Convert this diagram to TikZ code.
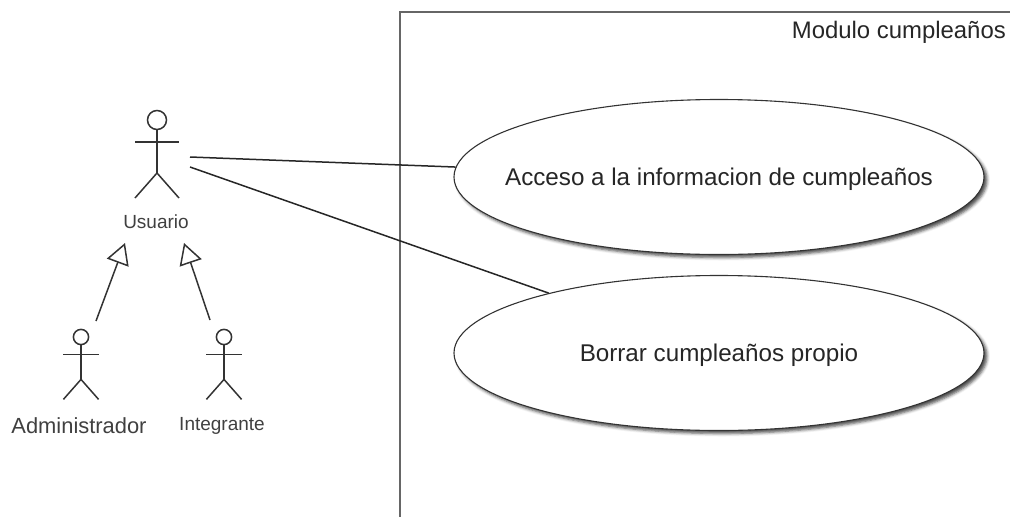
\documentclass[tikz,border=0pt]{standalone}
\usepackage{fontspec}
\setmainfont{Liberation Sans}
\usetikzlibrary{arrows.meta}
\usetikzlibrary{shapes.geometric}
\usetikzlibrary{shadows.blur}
\definecolor{linegray}{HTML}{333333}
\tikzset{
  actor/.pic={
    \draw[actorline] (0,0) circle (9.5);
    \draw[actorline] (0,9.5) -- (0,53);
    \draw[actorline] (-22,22) -- (22,22);
    \draw[actorline] (-22,78) -- (0,53) -- (22,78);
  },
  actorline/.style={draw=linegray,line width=1.5pt},
  usecase/.style={ellipse,draw=linegray,fill=white,line width=1.1pt,minimum width=530,minimum height=155,
    inner xsep=-60pt,inner ysep=0pt,text depth=1pt,font=\fontsize{24.2}{26}\selectfont,text=black!85,
    blur shadow={shadow xshift=3pt,shadow yshift=-3pt,shadow blur radius=3pt,shadow opacity=70}},
  actorlabel/.style={text=black!75,inner sep=0pt,font=\fontsize{19}{22}\selectfont},
  assoc/.style={draw=black!85,line width=1.5pt},
  inherit/.style={draw=linegray,line width=1.5pt,-{Triangle[open,length=21pt,width=23pt]}}
}

\begin{document}
\begin{tikzpicture}[x=1pt,y=-1pt]
\useasboundingbox (0,0) rectangle (1010,517);

\draw[draw=black!60,line width=1.3pt] (400,517) -- (400,12) -- (1010,12);
\node[anchor=east,inner sep=0pt,text=black!85,font=\fontsize{23.9}{26}\selectfont] (modulo) at (1006,32) {Modulo cumpleaños};

\node[usecase] (acceso) at (719,177) {Acceso a la informacion de cumpleaños};
\node[usecase] (borrar) at (719,353) {Borrar cumpleaños propio};

\pic at (157,120) {actor};
\pic[scale=0.8] at (81,337) {actor};
\pic[scale=0.8] at (224,337) {actor};

\node[actorlabel] (usuario) at (156,222) {Usuario};
\node[actorlabel,font=\fontsize{21.9}{24}\selectfont] (admin) at (79,426) {Administrador};
\node[actorlabel] (integrante) at (222,426) {Integrante};

\coordinate (usuarioA) at (190,157);
\coordinate (usuarioB) at (190,167);
\coordinate (adminTip) at (125,243);
\coordinate (adminEnd) at (96,321);
\coordinate (integranteTip) at (184,243);
\coordinate (integranteEnd) at (210,320);

\draw[assoc] (usuarioA) -- (acceso);
\draw[assoc] (usuarioB) -- (borrar);
\draw[inherit] (adminEnd) -- (adminTip);
\draw[inherit] (integranteEnd) -- (integranteTip);

\end{tikzpicture}
\end{document}
